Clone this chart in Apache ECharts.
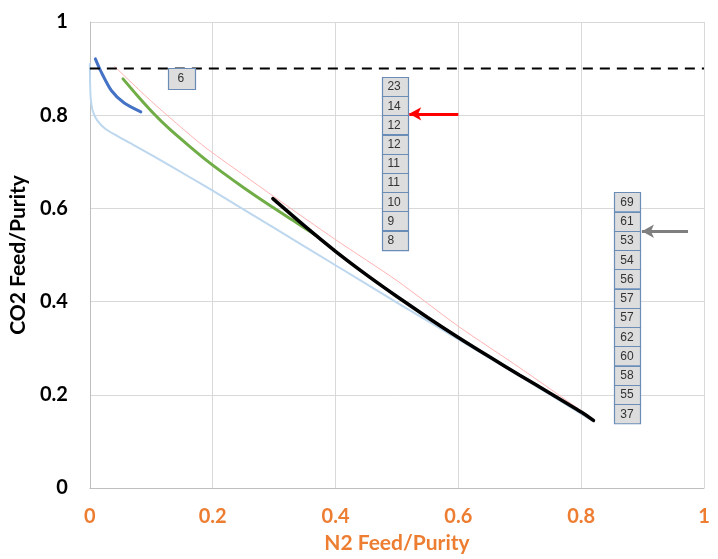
<!DOCTYPE html>
<html>
<head>
<meta charset="utf-8">
<script src="https://cdn.jsdelivr.net/npm/echarts@6/dist/echarts.min.js"></script>
<style>html,body{margin:0;padding:0;background:#fff}#c{width:718px;height:559px}</style>
</head>
<body>
<div id="c"></div>
<script>
// ---- data ----
const lightBlue = [[0,0.91],[0.0004,0.87],[0.0015,0.835],[0.005,0.808],[0.012,0.789],[0.025,0.771],[0.045,0.755],[0.07,0.737],[0.105,0.711],[0.16,0.669],[0.2,0.638],[0.3,0.558],[0.4,0.478],[0.5,0.398],[0.6,0.319],[0.7,0.240],[0.82,0.143]];
const darkBlue = [[0.009,0.921],[0.018,0.894],[0.035,0.853],[0.056,0.826],[0.083,0.807]];
const green = [[0.054,0.878],[0.08,0.838],[0.105,0.802],[0.13,0.770],[0.159,0.737],[0.19,0.703],[0.213,0.680],[0.25,0.645],[0.289,0.610],[0.33,0.575],[0.3685,0.542]];
const pink = [[0.04,0.905],[0.1,0.83],[0.182,0.737],[0.25,0.672],[0.3,0.625],[0.4,0.533],[0.5,0.445],[0.6,0.347],[0.7,0.258],[0.815,0.152]];
const black = [[0.298,0.621],[0.35,0.562],[0.4,0.508],[0.45,0.458],[0.5,0.411],[0.55,0.366],[0.6,0.323],[0.65,0.282],[0.7,0.242],[0.75,0.203],[0.8,0.163],[0.82,0.145]];
const threshold = 0.9;
const singleBox = [6];
const columnA = [23,14,12,12,11,11,10,9,8];
const columnB = [69,61,53,54,56,57,57,62,60,58,55,37];
const xTicks = [0,0.2,0.4,0.6,0.8,1];
const yTicks = [0,0.2,0.4,0.6,0.8,1];

// ---- chart ----
const chart = echarts.init(document.getElementById('c'));
const FONT = 'Lato, "Open Sans", sans-serif';

function boxSeries(values, anchor, w, h, pad) {
  return {
    type: 'custom',
    coordinateSystem: 'cartesian2d',
    silent: true,
    z: 10,
    data: values.map((v, i) => [anchor[0], anchor[1], i, v]),
    renderItem: function (params, api) {
      const c = api.coord([api.value(0), api.value(1)]);
      const i = api.value(2);
      const cx = c[0], cy = c[1] + i * h;
      return {
        type: 'group',
        children: [
          { type: 'rect', shape: { x: Math.round(cx - w / 2) + 0.5, y: Math.round(cy - h / 2) + 0.5, width: w, height: h },
            style: { fill: '#DDDDDD', stroke: '#6A8DB8', lineWidth: 1.2 } },
          { type: 'text', style: { x: cx - w / 2 + pad, y: cy + 0.5, text: String(api.value(3)),
            fill: '#333333', font: '12px "Liberation Sans", sans-serif', verticalAlign: 'middle', align: 'left' } }
        ]
      };
    }
  };
}

function arrow(from, to, color) {
  return {
    type: 'line', data: [], silent: true, z: 12,
    markLine: {
      silent: true, symbol: ['none', 'arrow'], symbolSize: [10, 12],
      label: { show: false },
      lineStyle: { color: color, width: 3, type: 'solid' },
      emphasis: { disabled: true },
      data: [[{ coord: from }, { coord: to }]]
    }
  };
}

function curve(data, color, width, z) {
  return { type: 'line', data: data, smooth: 0.25, showSymbol: false, symbol: 'none', silent: true, z: z,
    lineStyle: { color: color, width: width, cap: 'round' } };
}

chart.setOption({
  animation: false,
  backgroundColor: '#fff',
  grid: { left: 88, right: 14, top: 22, bottom: 69, containLabel: false },
  xAxis: {
    type: 'value', min: xTicks[0], max: xTicks[xTicks.length - 1], interval: 0.2,
    name: 'N2 Feed/Purity', nameLocation: 'middle', nameGap: 45,
    nameTextStyle: { color: '#ED7D31', fontSize: 21, fontWeight: 'bold', fontFamily: FONT },
    axisLine: { show: true, lineStyle: { color: '#BFBFBF', width: 1 } },
    axisTick: { show: false },
    axisLabel: { color: '#ED7D31', fontSize: 20, fontWeight: 'bold', fontFamily: FONT, margin: 19,
      formatter: v => String(+v.toFixed(1)) },
    splitLine: { show: true, lineStyle: { color: '#D9D9D9', width: 1 } }
  },
  yAxis: {
    type: 'value', min: yTicks[0], max: yTicks[yTicks.length - 1], interval: 0.2,
    name: 'CO2 Feed/Purity', nameLocation: 'middle', nameGap: 50, nameRotate: 90,
    nameTextStyle: { color: '#000', fontSize: 21, fontWeight: 'bold', fontFamily: FONT },
    axisLine: { show: true, lineStyle: { color: '#BFBFBF', width: 1 } },
    axisTick: { show: false },
    axisLabel: { color: '#000', fontSize: 20, fontWeight: 'bold', fontFamily: FONT, margin: 22,
      formatter: v => String(+v.toFixed(1)) },
    splitLine: { show: true, lineStyle: { color: '#D9D9D9', width: 1 } }
  },
  series: [
    curve(lightBlue, '#BDD7EE', 2, 2),
    curve(pink, '#FFB3B3', 1, 3),
    curve(green, '#70AD47', 3, 4),
    curve(darkBlue, '#4472C4', 3, 5),
    curve(black, '#000000', 3.5, 6),
    { type: 'line', data: [[0, threshold], [1, threshold]], showSymbol: false, symbol: 'none', silent: true, z: 7,
      lineStyle: { color: '#000', width: 2, type: [10, 7] } },
    boxSeries(singleBox, [0.1499, 0.879], 27, 21, 9),
    boxSeries(columnA, [0.4976, 0.8613], 26, 19.2, 5),
    boxSeries(columnB, [0.875, 0.6135], 26, 19.25, 6),
    arrow([0.6, 0.803], [0.52, 0.803], '#FF0000'),
    arrow([0.974, 0.551], [0.899, 0.551], '#7F7F7F')
  ]
});
</script>
</body>
</html>
